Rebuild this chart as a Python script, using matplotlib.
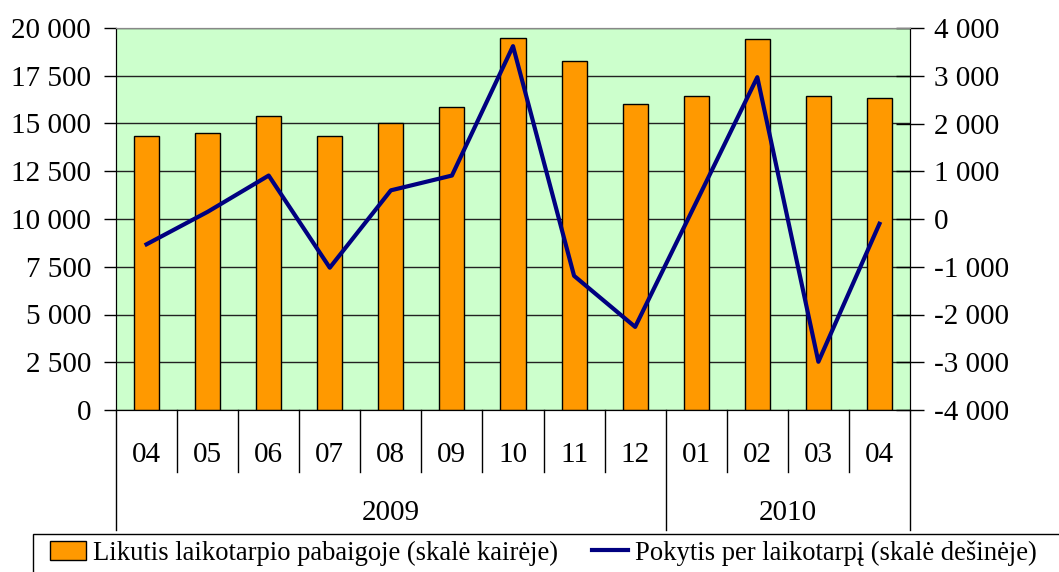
import matplotlib.pyplot as plt
import matplotlib.transforms as mtransforms
from matplotlib.patches import Rectangle
from matplotlib.ticker import FuncFormatter

months = ['04', '05', '06', '07', '08', '09', '10', '11', '12', '01', '02', '03', '04']
years = ['2009', '2010']
year_counts = [9, 4]
balance = [14360, 14500, 15400, 14370, 15000, 15880, 19500, 18290, 16000, 16460, 19420, 16440, 16320]
change = [-530, 150, 910, -1020, 600, 910, 3620, -1190, -2260, 350, 2970, -2990, -100]

bar_label = 'Likutis laikotarpio pabaigoje (skalė kairėje)'
line_label = 'Pokytis per laikotarpį (skalė dešinėje)'

plt.rcParams['font.family'] = 'Liberation Serif'

W, H = 1059, 572
fig = plt.figure(figsize=(W / 100, H / 100), dpi=100)
ax = fig.add_axes([116 / W, 1 - 410 / H, (910 - 116) / W, (410 - 28) / H])
ax.set_facecolor('#CCFFCC')

x = list(range(len(months)))
bars = ax.bar(x, balance, width=0.41, color='#FF9900', edgecolor='black', linewidth=1, zorder=3,
              label=bar_label)
ax.set_xlim(-0.5, len(months) - 0.5)
ax.set_ylim(0, 20000)
ax.set_yticks(range(0, 20001, 2500))
ax.yaxis.grid(True, color='#222222', linewidth=1)
ax.set_axisbelow(True)

def spaced(v, pos):
    return '{:,.0f}'.format(v).replace(',', ' ')

ax.yaxis.set_major_formatter(FuncFormatter(spaced))
ax.tick_params(axis='y', labelsize=21, length=9, width=1, pad=9, direction='out')
ax.set_xticks([])
ax.spines['top'].set_color('#888888')

ax2 = ax.twinx()
line, = ax2.plot(x, change, color='#000080', linewidth=3, zorder=4, label=line_label)
ax2.set_ylim(-4000, 4000)
ax2.set_yticks(range(-4000, 4001, 1000))
ax2.yaxis.set_major_formatter(FuncFormatter(spaced))
ax2.tick_params(axis='y', labelsize=21, length=20, width=1, pad=7, direction='inout')
ax2.spines['top'].set_color('#888888')

# category axis: month and year separators below the plot
trans = mtransforms.blended_transform_factory(ax.transData, fig.transFigure)
y0 = 1 - 410 / H
y_month = 1 - 472 / H
y_year = 1 - 530 / H
bounds = [0]
for c in year_counts:
    bounds.append(bounds[-1] + c)
for i in range(1, len(months)):
    if i in bounds:
        continue
    fig.add_artist(plt.Line2D([i - 0.5, i - 0.5], [y0, y_month], transform=trans, color='black', lw=1))
for b in bounds:
    fig.add_artist(plt.Line2D([b - 0.5, b - 0.5], [y0, y_year], transform=trans, color='black', lw=1))
for i, m in enumerate(months):
    fig.text(i, 1 - 455 / H, m, transform=trans, ha='center', va='center', fontsize=21)
for j, yr in enumerate(years):
    c = (bounds[j] + bounds[j + 1] - 1) / 2
    fig.text(c, 1 - 513 / H, yr, transform=trans, ha='center', va='center', fontsize=21)

# legend box
fig.add_artist(Rectangle((33 / W, -0.05), 1.1, 1 - 534 / H + 0.05, transform=fig.transFigure,
                         facecolor='white', edgecolor='black', linewidth=1))
fig.legend([bars, line], [bar_label, line_label], loc='center left',
           bbox_to_anchor=(50 / W, 1 - 553 / H), ncol=2, frameon=False, fontsize=19.2,
           handlelength=1.35, handleheight=0.75, handletextpad=0.25, columnspacing=1.3,
           borderpad=0, borderaxespad=0)

fig.savefig('out.png', dpi=100)
